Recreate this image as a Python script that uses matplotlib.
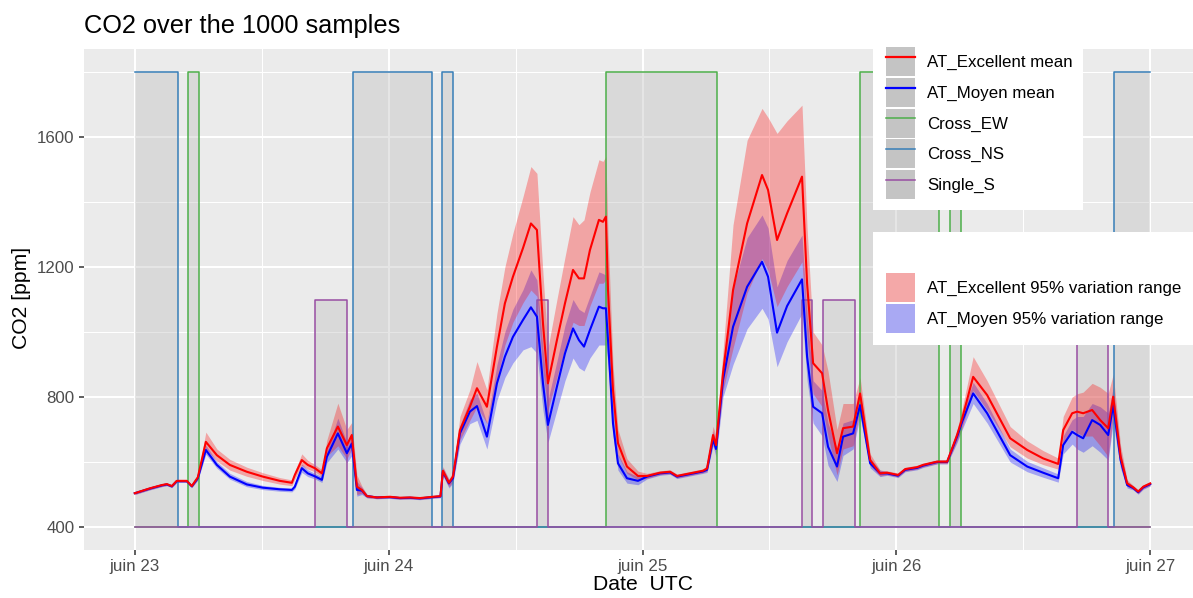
"""CO2 over the 1000 samples: AT_Excellent vs AT_Moyen with window openings."""
import matplotlib
matplotlib.use("Agg")
import matplotlib.pyplot as plt
from matplotlib.patches import Patch, Rectangle
from matplotlib.lines import Line2D
from matplotlib.legend_handler import HandlerTuple

plt.rcParams["font.family"] = ["Liberation Sans", "DejaVu Sans"]

# hours since juin 23 00:00 UTC
hours = [0.0, 1.42, 2.55, 3.03, 3.50, 3.97, 4.92, 5.39, 5.96, 6.72,
         7.76, 8.99, 10.59, 12.11, 13.71, 14.85, 15.13, 15.79, 16.36, 17.02,
         17.69, 18.16, 19.20, 20.05, 20.52, 21.00, 21.47, 21.95, 22.89, 24.12,
         25.06, 26.01, 26.96, 28.18, 28.90, 29.13, 29.70, 30.08, 30.74, 31.68,
         32.35, 33.29, 34.24, 34.99, 35.75, 36.70, 37.45, 38.02, 38.59, 39.06,
         39.91, 40.67, 41.43, 41.99, 42.47, 43.03, 43.88, 44.26, 44.54, 44.74,
         45.21, 45.68, 46.53, 47.57, 48.43, 49.65, 50.60, 51.26, 52.49, 53.72,
         54.10, 54.67, 54.95, 55.61, 56.56, 57.89, 59.30, 59.87, 60.72, 61.67,
         63.08, 63.56, 64.13, 64.98, 65.54, 66.39, 66.96, 67.91, 68.57, 69.52,
         70.46, 71.12, 72.16, 72.83, 73.96, 74.53, 75.85, 76.80, 77.74, 78.22,
         79.26, 80.58, 82.76, 84.37, 85.88, 87.30, 87.77, 88.62, 89.09, 89.66,
         90.51, 91.27, 92.03, 92.50, 93.20, 93.82, 94.39, 94.86, 95.34, 96.00]

exc_mean = [504, 519, 529, 532, 526, 542, 542, 526, 553, 662,
            621, 591, 570, 555, 542, 536, 560, 606, 591, 581,
            565, 642, 709, 652, 683, 524, 514, 495, 491, 493,
            490, 491, 489, 493, 495, 573, 536, 555, 698, 770,
            827, 770, 955, 1088, 1170, 1258, 1334, 1314, 1027, 842,
            975, 1088, 1191, 1165, 1165, 1252, 1345, 1339, 1355, 1129,
            822, 658, 586, 557, 557, 567, 570, 557, 565, 573,
            580, 683, 652, 873, 1129, 1334, 1483, 1437, 1283, 1365,
            1478, 1150, 904, 873, 760, 627, 704, 709, 811, 606,
            565, 567, 560, 578, 584, 591, 601, 601, 683, 734,
            862, 806, 673, 637, 611, 594, 698, 750, 755, 750,
            760, 729, 704, 801, 616, 534, 522, 509, 524, 534]
exc_lo = [500, 515, 525, 528, 522, 538, 538, 522, 546, 640,
          603, 575, 556, 543, 532, 527, 548, 590, 578, 570,
          555, 618, 650, 610, 640, 500, 504, 490, 487, 489,
          486, 487, 485, 489, 491, 560, 524, 540, 668, 728,
          770, 718, 850, 960, 1030, 1090, 1129, 1110, 880, 760,
          860, 950, 1030, 1020, 1020, 1080, 1150, 1150, 1160, 1000,
          760, 620, 565, 545, 550, 561, 564, 551, 559, 567,
          572, 660, 630, 820, 950, 1120, 1226, 1190, 1078, 1140,
          1216, 980, 810, 770, 680, 560, 640, 650, 760, 590,
          557, 561, 554, 572, 578, 585, 595, 595, 665, 705,
          820, 760, 647, 612, 592, 578, 660, 700, 690, 680,
          680, 650, 616, 740, 590, 525, 516, 503, 518, 528]
exc_hi = [508, 523, 533, 536, 530, 546, 546, 530, 560, 692,
          640, 608, 584, 567, 552, 545, 572, 625, 605, 592,
          576, 668, 781, 700, 722, 560, 526, 500, 495, 497,
          494, 495, 493, 497, 499, 586, 548, 570, 740, 822,
          909, 822, 1058, 1200, 1304, 1416, 1509, 1488, 1180, 950,
          1100, 1230, 1355, 1330, 1345, 1430, 1530, 1525, 1540, 1300,
          900, 700, 610, 572, 565, 573, 576, 563, 571, 579,
          590, 710, 680, 940, 1330, 1590, 1688, 1660, 1611, 1650,
          1698, 1320, 1000, 960, 880, 700, 780, 780, 860, 625,
          575, 573, 566, 584, 590, 597, 607, 608, 700, 765,
          924, 850, 709, 665, 635, 612, 740, 800, 810, 815,
          842, 830, 811, 870, 650, 545, 528, 515, 530, 540]

moy_mean = [504, 518, 528, 531, 525, 541, 541, 525, 550, 637,
            591, 555, 531, 521, 516, 514, 524, 581, 565, 556,
            545, 616, 688, 627, 657, 514, 512, 495, 491, 492,
            489, 490, 488, 492, 494, 570, 534, 550, 688, 755,
            772, 678, 842, 924, 985, 1037, 1076, 1047, 842, 714,
            832, 934, 1011, 975, 955, 1006, 1078, 1073, 1073, 975,
            719, 596, 550, 542, 555, 565, 568, 555, 563, 571,
            576, 670, 640, 852, 1016, 1139, 1216, 1170, 998, 1080,
            1162, 924, 770, 750, 647, 586, 678, 688, 775, 596,
            565, 565, 558, 576, 582, 589, 600, 600, 678, 724,
            811, 750, 621, 586, 567, 550, 652, 693, 683, 673,
            729, 714, 683, 775, 606, 529, 520, 507, 522, 532]
moy_lo = [500, 514, 524, 527, 521, 537, 537, 521, 544, 624,
          581, 547, 524, 515, 510, 508, 517, 568, 555, 548,
          537, 598, 640, 598, 620, 495, 500, 490, 487, 488,
          485, 486, 484, 488, 490, 558, 520, 535, 655, 718,
          728, 640, 790, 860, 905, 945, 955, 935, 760, 660,
          760, 850, 920, 890, 880, 920, 960, 960, 960, 900,
          680, 575, 535, 530, 548, 559, 562, 549, 557, 565,
          568, 650, 615, 800, 900, 1010, 1073, 1040, 893, 970,
          1057, 850, 720, 680, 590, 540, 620, 640, 740, 582,
          555, 559, 552, 570, 576, 583, 594, 594, 660, 700,
          780, 720, 600, 570, 553, 538, 625, 655, 640, 630,
          650, 630, 606, 720, 580, 520, 514, 501, 516, 526]
moy_hi = [508, 522, 532, 535, 529, 545, 545, 529, 557, 652,
          601, 565, 540, 528, 522, 520, 531, 594, 576, 565,
          555, 634, 735, 660, 692, 540, 522, 500, 495, 496,
          493, 494, 492, 496, 498, 582, 546, 565, 712, 792,
          812, 720, 900, 1000, 1070, 1130, 1191, 1160, 950, 790,
          910, 1020, 1100, 1070, 1060, 1110, 1185, 1180, 1175, 1060,
          780, 625, 570, 555, 562, 571, 574, 561, 569, 577,
          585, 695, 665, 900, 1135, 1290, 1360, 1320, 1139, 1220,
          1298, 1050, 850, 820, 720, 640, 720, 730, 810, 612,
          575, 571, 564, 582, 588, 595, 606, 606, 695, 745,
          845, 780, 640, 602, 582, 563, 680, 730, 740, 740,
          780, 770, 750, 830, 630, 540, 526, 513, 528, 538]

# window openings (start hour, end hour); plotted at 1800 (cross) / 1100 (single), 400 when closed
cross_ew = [(5.01, 6.05), (44.54, 55.04), (68.57, 76.04), (77.08, 78.12)]
cross_ns = [(0.0, 4.07), (20.62, 28.09), (29.04, 30.08), (92.59, 96.0)]
single_s = [(17.02, 20.05), (38.02, 39.06), (63.05, 64.07), (65.04, 68.07), (89.09, 92.03)]
windows = [("Cross_EW", cross_ew, 1800, "#4DAF4A"),
           ("Cross_NS", cross_ns, 1800, "#377EB8"),
           ("Single_S", single_s, 1100, "#984EA3")]

day_ticks = [0, 24, 48, 72, 96]
day_labels = ["juin 23", "juin 24", "juin 25", "juin 26", "juin 27"]
t_end = 96.0

W, H = 1193, 598
fig = plt.figure(figsize=(W / 100, H / 100), dpi=100)
ax = fig.add_axes([84 / W, 1 - 549.75 / H, (1201 - 84) / W, 500.5 / H])
ax.set_facecolor("#EBEBEB")
for s in ax.spines.values():
    s.set_visible(False)

# window rectangles + step lines
for name, ivals, top, col in windows:
    for a, b in ivals:
        ax.fill_between([a, b], 400, top, color="#BEBEBE", alpha=0.4, lw=0, zorder=1)
for name, ivals, top, col in windows:
    ts, vs = [], []
    for a, b in ivals:
        ts += [a, b]
        vs += [top, 400]
    if ts[0] > 0:
        ts.insert(0, 0.0)
        vs.insert(0, 400)
    if ts[-1] >= t_end:
        ts[-1] = t_end
        vs[-1] = top
    else:
        ts.append(t_end)
        vs.append(400)
    ax.step(ts, vs, where="post", color=col, lw=1.1, zorder=3)

# ribbons and means
ax.fill_between(hours, moy_lo, moy_hi, color="blue", alpha=0.3, lw=0, zorder=2)
ax.fill_between(hours, exc_lo, exc_hi, color="red", alpha=0.3, lw=0, zorder=2)
ax.plot(hours, moy_mean, color="#0000FF", lw=1.5, zorder=4)
ax.plot(hours, exc_mean, color="#FF0000", lw=1.5, zorder=4)

ax.set_xlim(-4.8, 100.8)
ax.set_ylim(330, 1870)
ax.set_xticks(day_ticks, labels=day_labels)
ax.set_xticks([12, 36, 60, 84], minor=True)
ax.set_yticks([400, 800, 1200, 1600])
ax.set_yticks([600, 1000, 1400, 1800], minor=True)
ax.grid(which="major", color="white", lw=1.5)
ax.grid(which="minor", color="white", lw=0.75)
ax.set_axisbelow(True)
ax.tick_params(which="major", length=3.8, width=1.1, color="#333333",
               labelcolor="#4D4D4D", labelsize=12.2, pad=3)
ax.tick_params(which="minor", length=0)

fig.text(84 / W, 1 - 26 / H, "CO2 over the 1000 samples", fontsize=18.3, va="center", ha="left")
fig.text(22 / W, 1 - 298 / H, "CO2 [ppm]", fontsize=15.2, rotation=90, va="center", ha="center")
fig.text(643 / W, 1 - 584 / H, "Date  UTC", fontsize=15.2, va="center", ha="center")

# legends (white boxes drawn on top of the panel)
fs = 12.2
key_pt = 29 * 72 / 100
hh = (key_pt / fs - 0.245) / 0.65
fig.add_artist(Rectangle((873 / W, 1 - 210 / H), 210 / W, 170 / H,
                         transform=fig.transFigure, fc="white", ec="none", zorder=4))
fig.add_artist(Rectangle((873 / W, 1 - 345 / H), 330 / W, 113 / H,
                         transform=fig.transFigure, fc="white", ec="none", zorder=4))

key_gray = "#C4C4C4"
line_handles = [(Patch(fc=key_gray, ec="none"), Line2D([], [], color="#FF0000", lw=1.6)),
                (Patch(fc=key_gray, ec="none"), Line2D([], [], color="#0000FF", lw=1.6))]
line_labels = ["AT_Excellent mean", "AT_Moyen mean"]
for name, ivals, top, col in windows:
    line_handles.append((Patch(fc=key_gray, ec="none"), Line2D([], [], color=col, lw=1.1)))
    line_labels.append(name)

common = dict(frameon=False, borderpad=0, borderaxespad=0, fontsize=fs,
              handlelength=key_pt / fs, handleheight=hh,
              labelspacing=1.3 / fs, handletextpad=8.6 / fs)
fig.legend(line_handles, line_labels, loc="upper left",
           bbox_to_anchor=(886 / W, 1 - 47 / H),
           handler_map={tuple: HandlerTuple(ndivide=1)}, **common)

fill_handles = [Patch(fc="#F4A8A8", ec="none"), Patch(fc="#A9A9F3", ec="none")]
fill_labels = ["AT_Excellent 95% variation range", "AT_Moyen 95% variation range"]
fig.legend(fill_handles, fill_labels, loc="upper left",
           bbox_to_anchor=(886 / W, 1 - 273 / H), **common)

fig.savefig("out.png", dpi=100)
